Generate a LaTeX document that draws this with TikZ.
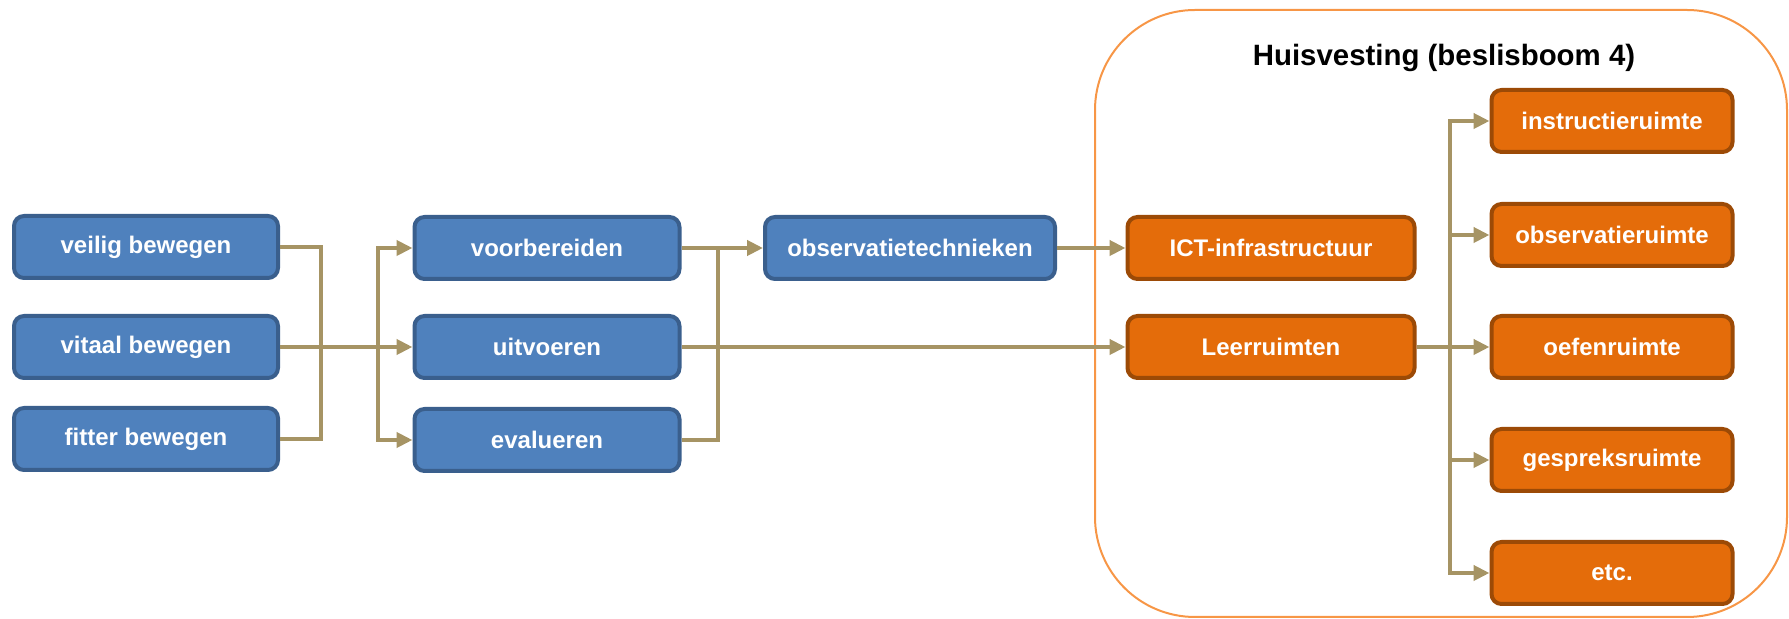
\documentclass[tikz,border=0pt]{standalone}
\usepackage{fontspec}
\setmainfont{Liberation Sans}
\usetikzlibrary{arrows.meta}
\definecolor{blauwvul}{HTML}{4F81BD}
\definecolor{blauwrand}{HTML}{3A5F8D}
\definecolor{oranjevul}{HTML}{E46C0A}
\definecolor{oranjerand}{HTML}{9C4A06}
\definecolor{lijnkleur}{RGB}{166,148,100}
\definecolor{kaderkleur}{HTML}{F79646}
\tikzset{
  blok/.style={rounded corners=5pt, line width=2pt, text=white, inner sep=0pt,
    minimum height=31pt, font=\fontsize{12}{14}\selectfont\bfseries},
  blauw/.style={blok, fill=blauwvul, draw=blauwrand},
  oranje/.style={blok, fill=oranjevul, draw=oranjerand},
  lijn/.style={draw=lijnkleur, line width=2.1pt},
  pijl/.style={lijn, -{Triangle[length=8pt,width=7.5pt]}}
}
\begin{document}
\begin{tikzpicture}[x=0.5pt,y=-0.5pt]
                    \useasboundingbox (0,0) rectangle (1789,619);

                    % kader huisvesting
                    \draw[kaderkleur, line width=1pt, rounded corners=50pt] (1095,10) rectangle (1787,617);
                    \node[font=\fontsize{14.7}{17}\selectfont\bfseries] (titel) at (1444,58) {Huisvesting (beslisboom 4)};

                    \node[blauw, minimum width=132pt] (veilig) at (146,247) {veilig bewegen};
                    \node[blauw, minimum width=132pt] (vitaal) at (146,347) {vitaal bewegen};
                    \node[blauw, minimum width=132pt] (fitter) at (146,439) {fitter bewegen};

                    \node[blauw, minimum width=132.5pt] (voorbereiden) at (547,248) {voorbereiden};
                    \node[blauw, minimum width=132.5pt] (uitvoeren) at (547,347) {uitvoeren};
                    \node[blauw, minimum width=132.5pt] (evalueren) at (547,440) {evalueren};

                    \node[blauw, minimum width=145pt] (obstech) at (910,248) {observatietechnieken};

                    \node[oranje, minimum width=143.5pt] (ict) at (1271,248) {ICT-infrastructuur};
                    \node[oranje, minimum width=143.5pt] (leer) at (1271,347) {Leerruimten};

                    \node[oranje, minimum width=120.5pt] (instructie) at (1612,121) {instructieruimte};
                    \node[oranje, minimum width=120.5pt] (observatie) at (1612,235) {observatieruimte};
                    \node[oranje, minimum width=120.5pt] (oefen) at (1612,347) {oefenruimte};
                    \node[oranje, minimum width=120.5pt] (gesprek) at (1612,460) {gespreksruimte};
                    \node[oranje, minimum width=120.5pt] (etc) at (1612,573) {etc.};

                    \coordinate (ja) at (321,0);
                    \coordinate (jb) at (378,0);
                    \coordinate (jc) at (718,0);
                    \coordinate (jd) at (1450,0);

                    % bewegen -> fasen
                    \draw[lijn] (veilig.east) -| (ja |- fitter) -- (fitter.east);
                    \draw[pijl] (vitaal.east) -- (uitvoeren.west);
                    \draw[pijl] (jb |- evalueren) |- (voorbereiden.west);
                    \draw[pijl] (jb |- voorbereiden) |- (evalueren.west);

                    % fasen -> huisvesting
                    \draw[lijn] (evalueren.east) -| (jc |- voorbereiden);
                    \draw[pijl] (voorbereiden.east) -- (obstech.west);
                    \draw[pijl] (obstech.east) -- (ict.west);
                    \draw[pijl] (uitvoeren.east) -- (leer.west);

                    % leerruimten
                    \draw[pijl] (leer.east) -- (oefen.west);
                    \foreach \r in {instructie,observatie,gesprek,etc}
                        \draw[pijl] (jd |- leer) |- (\r.west);
                \end{tikzpicture}
\end{document}
